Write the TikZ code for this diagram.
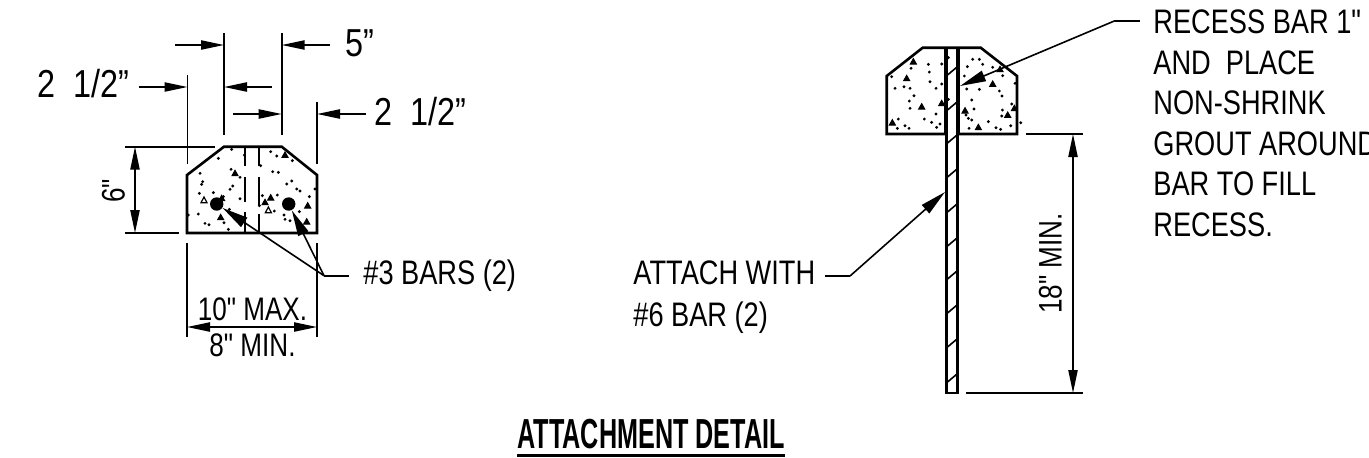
\documentclass[tikz,border=0pt]{standalone}
\usepackage{fontspec}
\newfontfamily\notefont[FakeStretch=0.8]{Liberation Sans}
\newfontfamily\dimfont[FakeStretch=0.83]{Liberation Sans}
\newfontfamily\titlefont[FakeStretch=0.6]{Liberation Sans}
\usetikzlibrary{arrows.meta}
\tikzset{
	thinline/.style={line width=0.8pt},
	outline/.style={line width=1.3pt,line join=miter},
	lbl/.style={inner sep=0pt,anchor=base west,font=\notefont\fontsize{17}{20.25}\selectfont},
	dimtxt/.style={inner sep=0pt,font=\notefont\fontsize{16.3}{20.25}\selectfont},
	dimlbl/.style={inner sep=0pt,anchor=base west,font=\dimfont\fontsize{19.5}{22}\selectfont},
	leader/.style={line width=0.8pt,{Stealth[length=13pt,width=5.5pt,inset=0pt]}-},
	barhole/.style={circle,fill=black,inner sep=0pt,minimum size=6.7pt},
	speck/.style={line width=0.5pt,fill=black}
}
\begin{document}
\begin{tikzpicture}[>={Stealth[length=11.5pt,width=4.6pt,inset=0pt]},x=0.5pt,y=-0.5pt]
	\useasboundingbox (0,0) rectangle (1369,457);
	% left section
	\draw[outline] (187,233) -- (187,175) -- (224,146.7) -- (281.7,146.7) -- (317,175) -- (317,233) -- cycle;
	\draw[thinline] (245,147) -- (245,166) (245,177) -- (245,202) (245,212) -- (245,233);
	\draw[thinline] (259,147) -- (259,166) (259,177) -- (259,205) (259,214) -- (259,233);
	\begin{scope}[shift={(180,140)},x=0.1667pt,y=-0.1667pt]
	\foreach \px/\py in {155/28,193/45,115/55,272/35,290/48,337/62,60/100,153/88,180/112,278/95,295/97,242/77,335/123,320/132,350/147,360/153,158/138,150/148,68/125,65/133,58/160,100/158,130/170,180/176,247/167,292/165,388/170,405/147,238/197,283/213,358/215,312/225,315/238,330/242,55/222,75/250,87/254,132/248,145/268,148/208,25/225}
		\fill (\px,\py) circle (0.8pt);
	\foreach \px/\py in {165/100,315/45,125/175,122/232,255/187,272/173,383/197,380/245}
		\draw[speck] (\px-9,\py+7) -- (\px+9,\py+7) -- (\px,\py-9) -- cycle;
	\foreach \px/\py in {72/180,265/210}
		\draw[line width=0.6pt] (\px-9,\py+8) -- (\px+9,\py+8) -- (\px,\py-9) -- cycle;
	\end{scope}
	\node[barhole] (barL) at (216.7,204) {};
	\node[barhole] (barR) at (288.7,204) {};
	% top dimensions
	\draw[thinline] (224,33) -- (224,135);
	\draw[thinline] (281.7,33) -- (281.7,135);
	\draw[thinline] (187.5,75) -- (187.5,164);
	\draw[thinline] (317,102) -- (317,164);
	\draw[thinline,->] (175,45) -- (224,45);
	\draw[thinline,->] (330,45) -- (281.7,45);
	\draw[thinline,->] (139,87) -- (187.5,87);
	\draw[thinline,->] (272,87) -- (224,87);
	\draw[thinline,->] (233,114) -- (281.7,114);
	\draw[thinline,->] (366,114) -- (317,114);
	\node[dimlbl] (five) at (345,56.7) {5”};
	\node[dimlbl] (halfL) at (37,97) {2\ \ 1/2”};
	\node[dimlbl] (halfR) at (374,125) {2\ \ 1/2”};
	% six inch height
	\draw[thinline] (125,146.7) -- (215,146.7);
	\draw[thinline] (125,233) -- (179,233);
	\draw[thinline,<->] (135,146.7) -- (135,233);
	\node[dimtxt,rotate=90] (six) at (113.5,191) {6"};
	% width below section
	\draw[thinline] (187,243) -- (187,337);
	\draw[thinline] (317,243) -- (317,337);
	\draw[thinline,<->] (187,327) -- (317,327);
	\node[dimtxt,anchor=base] (maxw) at (252.5,320) {10" MAX.};
	\node[dimtxt,anchor=base] (minw) at (252.5,356.7) {8" MIN.};
	% bars leader
	\node[lbl] (bars) at (363,284.3) {\#3 BARS (2)};
	\coordinate (barsElbow) at (324,275.7);
	\coordinate (barsEnd) at (349,275.7);
	\draw[thinline] (barsElbow) -- (barsEnd);
	\draw[leader] (barL) -- (barsElbow);
	\draw[leader] (barR) -- (barsElbow);
	% right section
	\draw[outline] (945.7,134) -- (886.7,134) -- (886.7,76) -- (922.7,47.7) -- (980.7,47.7) -- (1017,76) -- (1017,134) -- (958.3,134);
	\draw[line width=2pt] (945.7,47.7) -- (945.7,134);
	\draw[line width=2pt] (958.3,47.7) -- (958.3,134);
	\draw[line width=1.4pt] (946.7,134) -- (946.7,393) -- (957.7,393) -- (957.7,134);
	\foreach \ty in {75,110,143,177,212,246,279,313,347,382}
		\draw[thinline] (947.5,\ty) -- (957,\ty-8);
	\begin{scope}[shift={(880,40)},x=0.1667pt,y=-0.1667pt]
	\foreach \px/\py in {145/73,185/72,205/53,93/85,148/96,35/110,150/125,185/132,45/145,72/140,90/145,168/145,102/167,88/183,90/205,168/222,133/237,155/247,180/252,170/262,75/257,87/265,52/265,55/237,205/178,278/58,298/58,262/80,308/73,338/82,253/108,368/107,405/130,260/147,298/148,358/153,366/168,275/180,395/192,282/207,367/210,365/228,258/225,265/235,275/240,325/245,267/265,348/263,362/268,392/257,422/248}
		\fill (\px,\py) circle (0.8pt);
	\foreach \px/\py in {100/65,80/115,360/88,338/132,125/200,185/190,255/212,403/205,383/225,295/262,37/248}
		\draw[speck] (\px-9,\py+7) -- (\px+9,\py+7) -- (\px,\py-9) -- cycle;
	\end{scope}
	% recess note
	\node[lbl,align=left,anchor=north west] (recess) at (1153,9.5) {RECESS BAR 1"\\AND\ \ PLACE\\NON-SHRINK\\GROUT AROUND\\BAR TO FILL\\RECESS.};
	\coordinate (recessTip) at (960,86);
	\coordinate (recessElbow) at (1115,20.7);
	\coordinate (recessEnd) at (1140,20.7);
	\draw[leader] (recessTip) -- (recessElbow);
	\draw[thinline] (recessElbow) -- (recessEnd);
	% attach note
	\node[lbl] (attach) at (633,284) {ATTACH WITH};
	\node[lbl] (sixbar) at (633,326) {\#6 BAR (2)};
	\coordinate (attachTip) at (945,192);
	\coordinate (attachElbow) at (850,276);
	\coordinate (attachEnd) at (825,276);
	\draw[leader] (attachTip) -- (attachElbow);
	\draw[thinline] (attachElbow) -- (attachEnd);
	% length dimension
	\draw[thinline] (1025.7,134) -- (1083,134);
	\draw[thinline] (966,393) -- (1083,393);
	\draw[thinline,<->] (1073,134) -- (1073,393);
	\node[dimtxt,rotate=90] (length) at (1050.5,263.5) {18" MIN.};
	% title
	\node[inner sep=0pt,anchor=base west,font=\titlefont\bfseries\fontsize{21}{24}\selectfont] (title) at (517,448) {ATTACHMENT DETAIL};
	\draw[line width=1.3pt] (title.west |- 0,455.7) -- (title.east |- 0,455.7);
\end{tikzpicture}
\end{document}
